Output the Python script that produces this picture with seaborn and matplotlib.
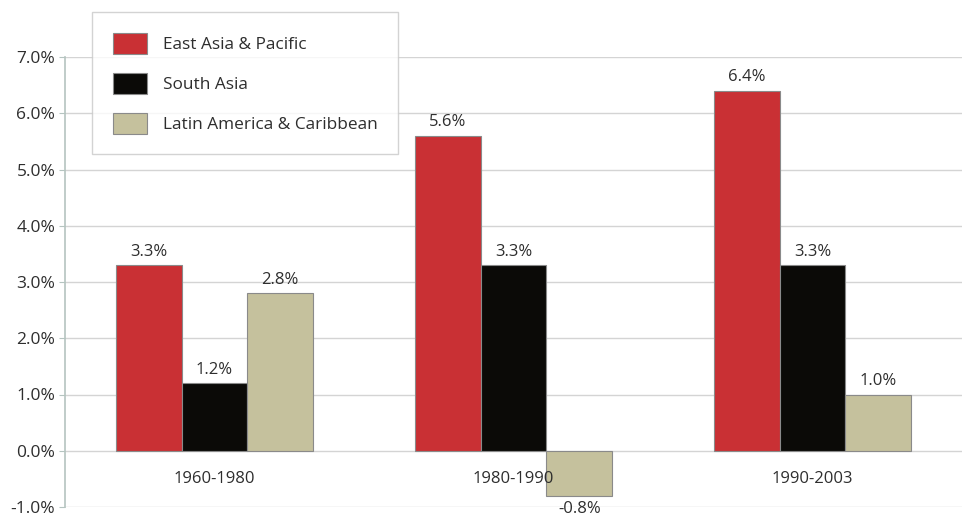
import matplotlib.pyplot as plt
import pandas as pd
import seaborn as sns

periods = ["1960-1980", "1980-1990", "1990-2003"]
regions = ["East Asia & Pacific", "South Asia", "Latin America & Caribbean"]
east_asia = [3.3, 5.6, 6.4]
south_asia = [1.2, 3.3, 3.3]
latin_america = [2.8, -0.8, 1.0]
y_ticks = [-1, 0, 1, 2, 3, 4, 5, 6, 7]

colors = ["#C93034", "#0B0A07", "#C5C19D"]

df = pd.DataFrame({
    "period": periods * 3,
    "region": [regions[0]] * 3 + [regions[1]] * 3 + [regions[2]] * 3,
    "growth": east_asia + south_asia + latin_america,
})

sns.set_style("white")
plt.rcParams["font.family"] = ["Open Sans", "DejaVu Sans"]
text_color = "#2e2e2e"

fig = plt.figure(figsize=(9.64, 5.21), dpi=100)
ax = fig.add_axes([65 / 964, 14 / 521, (962 - 65) / 964, (507 - 57) / 521])

sns.barplot(data=df, x="period", y="growth", hue="region", hue_order=regions,
            palette=colors, width=0.66, gap=0, edgecolor="#8a8a8a", linewidth=0.8,
            saturation=1, ax=ax, zorder=3)

for cont in ax.containers:
    ax.bar_label(cont, labels=[f"{v:.1f}%" for v in cont.datavalues],
                 padding=4, fontsize=12, color=text_color)

ax.set_ylim(-1, 7)
ax.set_xlim(-0.5, 2.5)
ax.set_yticks(y_ticks)
ax.set_yticklabels([f"{t:.1f}%" for t in y_ticks], fontsize=12.5, color=text_color)
ax.yaxis.grid(True, color="#d4d4d4", linewidth=1, zorder=0)
ax.set_axisbelow(True)
ax.tick_params(axis="y", left=True, length=4, width=0.8, color="#b5c4c0", pad=3)
ax.set_xticks([])
ax.set_xlabel("")
ax.set_ylabel("")

for s in ["top", "right", "bottom"]:
    ax.spines[s].set_visible(False)
ax.spines["left"].set_color("#b5c4c0")
ax.spines["left"].set_linewidth(1.2)

for i, p in enumerate(periods):
    ax.text(i, -0.5, p, ha="center", va="center", fontsize=12, color=text_color)

leg = ax.legend(loc="upper left", bbox_to_anchor=(92 / 964, 1 - 12 / 521),
                bbox_transform=fig.transFigure, frameon=True, fancybox=False,
                fontsize=12.4, handlelength=2.0, handleheight=1.5,
                labelspacing=1.1, borderpad=1.2, handletextpad=0.9,
                borderaxespad=0, title=None)
leg.get_frame().set_edgecolor("#c8c8c8")
leg.get_frame().set_linewidth(1.0)
for t in leg.get_texts():
    t.set_color(text_color)

fig.savefig("out.png", dpi=100)
